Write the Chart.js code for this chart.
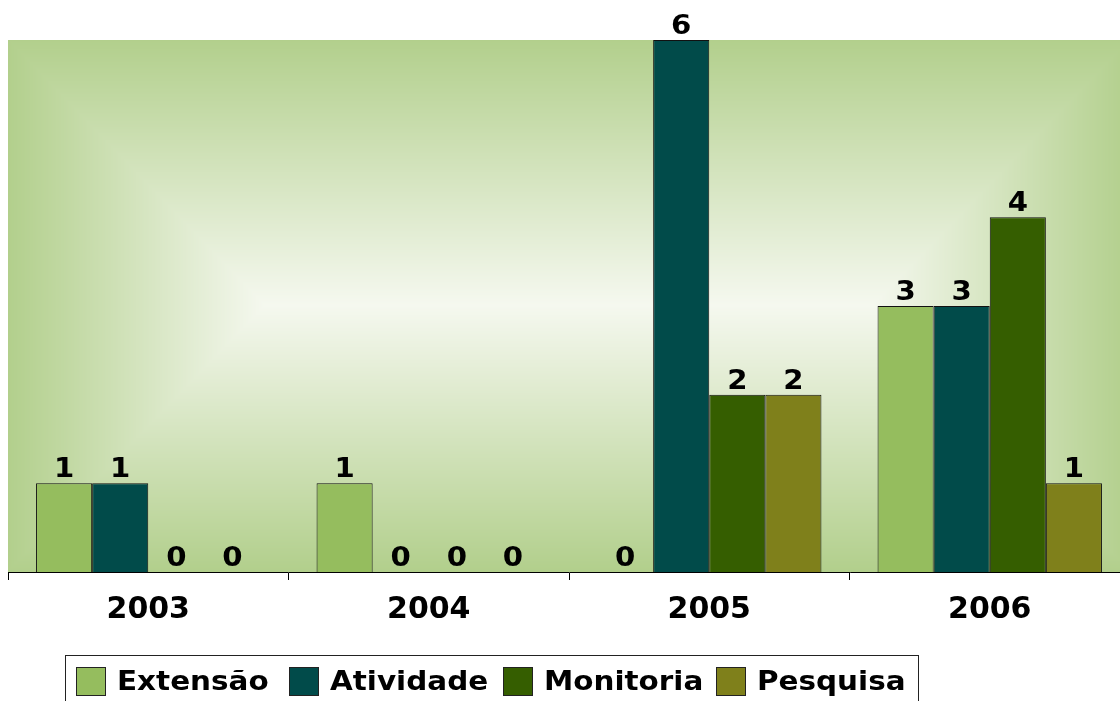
<!DOCTYPE html>
<html>
<head>
<meta charset="utf-8">
<script src="https://cdn.jsdelivr.net/npm/chart.js@4"></script>
<style>
  html, body { margin: 0; padding: 0; background: #fff; overflow: hidden; }
  #wrap { width: 1131px; height: 701px; }
</style>
</head>
<body>
<div id="wrap"><canvas id="c" width="1131" height="701"></canvas></div>
<script>
const years = ['2003', '2004', '2005', '2006'];
const seriesNames = ['Extensão', 'Atividade', 'Monitoria', 'Pesquisa'];
const extensao  = [1, 1, 0, 3];
const atividade = [1, 0, 6, 3];
const monitoria = [0, 0, 2, 4];
const pesquisa  = [0, 0, 2, 1];
const seriesColors = ['#95bd5e', '#014b4a', '#355e00', '#7f801b'];

const FONT = '"DejaVu Sans", sans-serif';

// Rectangular (path-style) gradient behind the plot area
const plotBackground = {
  id: 'plotBackground',
  beforeDraw(chart) {
    const { ctx, chartArea: a } = chart;
    const x0 = Math.round(a.left), y0 = Math.round(a.top);
    const w = Math.min(Math.round(a.right), chart.width) - x0;
    const h = Math.round(a.bottom) - y0;
    const img = ctx.createImageData(w, h);
    const cy = y0 + (h * 0.4985);
    const cxL = x0 + 257, cxR = x0 + w - 257;
    const halfX = 257, halfY = h / 2;
    const edge = [178, 207, 140], mid = [245, 248, 239];
    for (let j = 0; j < h; j++) {
      const y = y0 + j + 0.5;
      const dy = Math.abs(y - cy) / halfY;
      for (let i = 0; i < w; i++) {
        const x = x0 + i + 0.5;
        const dx = Math.max(0, cxL - x, x - cxR) / halfX;
        const t = Math.min(1, Math.max(dx, dy));
        const k = (j * w + i) * 4;
        img.data[k]     = mid[0] + (edge[0] - mid[0]) * t;
        img.data[k + 1] = mid[1] + (edge[1] - mid[1]) * t;
        img.data[k + 2] = mid[2] + (edge[2] - mid[2]) * t;
        img.data[k + 3] = 255;
      }
    }
    ctx.putImageData(img, x0, y0);
  }
};

// Draws text slightly widened horizontally
function wideText(ctx, text, x, y, sx) {
  ctx.save();
  ctx.translate(x, y);
  ctx.scale(sx, 1);
  ctx.fillText(text, 0, 0);
  ctx.restore();
}

// Value labels above each bar
const valueLabels = {
  id: 'valueLabels',
  afterDatasetsDraw(chart) {
    const { ctx } = chart;
    ctx.save();
    ctx.font = 'bold 27px ' + FONT;
    ctx.fillStyle = '#000';
    ctx.textAlign = 'center';
    ctx.textBaseline = 'alphabetic';
    chart.data.datasets.forEach((ds, di) => {
      const meta = chart.getDatasetMeta(di);
      meta.data.forEach((bar, i) => {
        wideText(ctx, String(ds.data[i]), bar.x, bar.y - 6, 1.08);
      });
    });
    ctx.restore();
  }
};

// Boxed legend row under the axis, one equal-width slot per series
const boxLegend = {
  id: 'boxLegend',
  afterDraw(chart) {
    const { ctx } = chart;
    const sx = 1.09;
    const slot = 213.4;
    ctx.save();
    ctx.font = 'bold 27px ' + FONT;
    ctx.textBaseline = 'alphabetic';
    ctx.textAlign = 'left';
    ctx.strokeStyle = '#222';
    ctx.lineWidth = 1;
    ctx.strokeRect(65.5, 655.5, 853, 80);
    chart.data.datasets.forEach((ds, i) => {
      const x = Math.round(76 + i * slot);
      ctx.fillStyle = ds.backgroundColor;
      ctx.fillRect(x, 667, 30, 29);
      ctx.strokeStyle = '#222';
      ctx.strokeRect(x + 0.5, 667.5, 29, 28);
      ctx.fillStyle = '#000';
      wideText(ctx, ds.label, x + 41, 690, sx);
    });
    ctx.restore();
  }
};

const seriesValues = [extensao, atividade, monitoria, pesquisa];

new Chart(document.getElementById('c'), {
  type: 'bar',
  data: {
    labels: years,
    datasets: seriesNames.map((name, i) => ({
      label: name,
      data: seriesValues[i],
      backgroundColor: seriesColors[i],
      borderColor: '#111',
      borderWidth: 1,
      categoryPercentage: 0.8,
      barPercentage: 1.0
    }))
  },
  options: {
    responsive: false,
    animation: false,
    layout: { padding: { left: 8, top: 40, right: 1, bottom: 0 } },
    plugins: { legend: { display: false }, tooltip: { enabled: false } },
    scales: {
      y: { display: false, min: 0, max: 6 },
      x: {
        border: { display: true, color: '#000', width: 1 },
        grid: { display: true, offset: true, drawOnChartArea: false, drawTicks: true, tickLength: 8, color: '#000', lineWidth: 1 },
        ticks: { color: '#000', font: { family: FONT, size: 30, weight: 'bold' }, padding: 12, maxRotation: 0 },
        afterFit(scale) { scale.height = 129; }
      }
    }
  },
  plugins: [plotBackground, valueLabels, boxLegend]
});
</script>
</body>
</html>
